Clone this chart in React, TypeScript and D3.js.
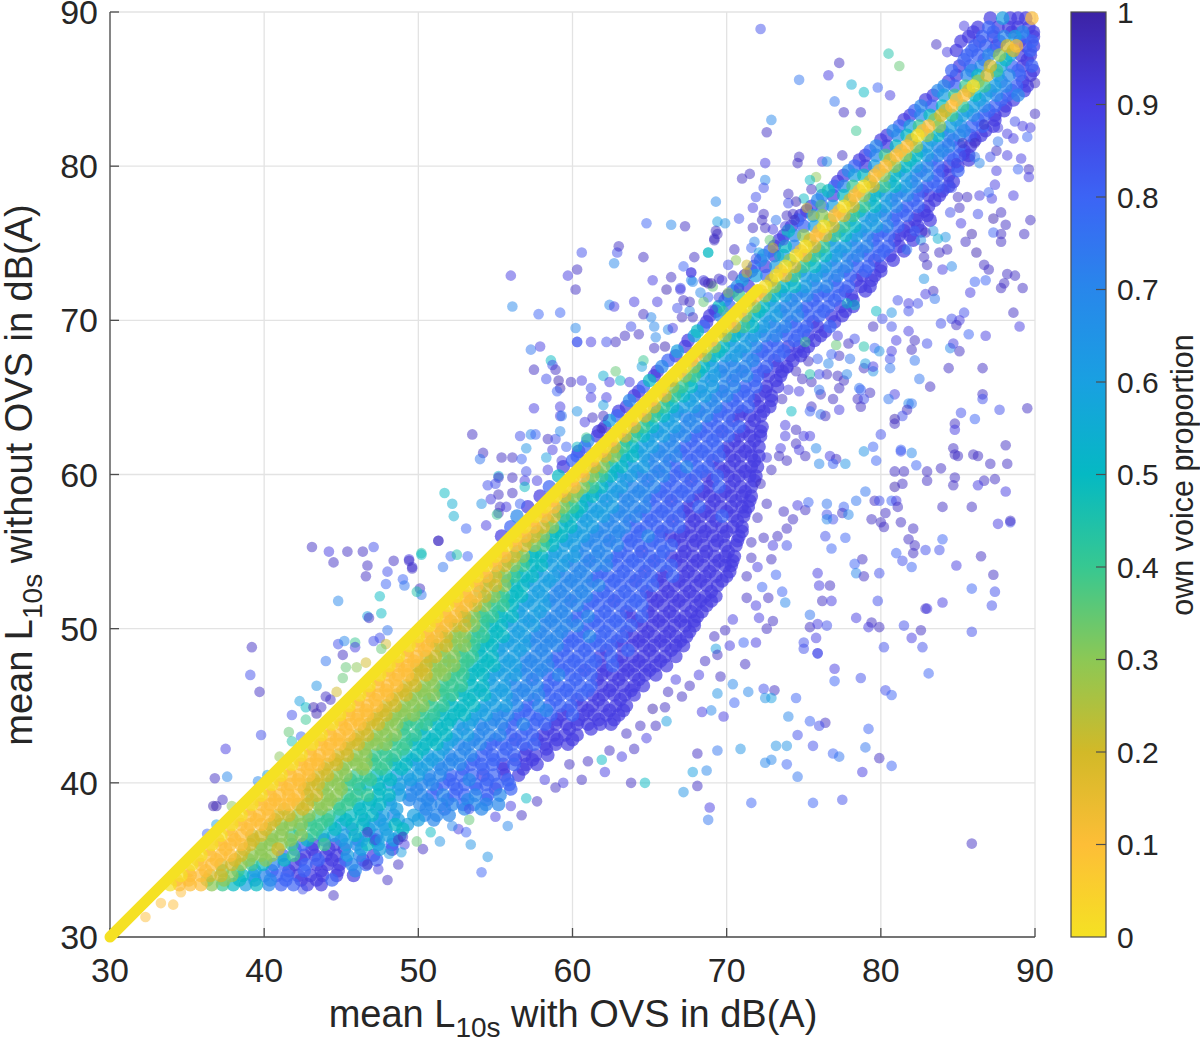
import React from "react";
import * as d3 from "d3";

// Values are estimates (dB(A), dB(A), own-voice proportion).
// The outlying points were read one by one. The dense body cannot be resolved into single
// points, so its rows are a hand-estimated sampling of where it lies and what colour it has.
const xTicks = [30, 40, 50, 60, 70, 80, 90];
const yTicks = [30, 40, 50, 60, 70, 80, 90];
const cbTicks = [0, 0.1, 0.2, 0.3, 0.4, 0.5, 0.6, 0.7, 0.8, 0.9, 1];
const cbLabels = ["0", "0.1", "0.2", "0.3", "0.4", "0.5", "0.6", "0.7", "0.8", "0.9", "1"];
const cmapStops = ["#f5e123", "#fdbe37", "#d2b928", "#8cc855", "#37c891", "#05b9c3", "#19a0e1", "#2887eb", "#3c64f5", "#463ce1", "#3c23a5"];

const diagonal = [30,32,34,36,38,40,42,44,46,48,50,52,54,56,58,60,62,64,66,68,70,72];

// Dense body, one row per y level: "x:p" with p in tenths of the proportion.
const core30s: [number, string][] = [
[33.4,"33.9:0 34.5:1 35.2:1 35.9:1 36.6:3 37.3:4 38.0:5 38.8:6 39.5:5 40.3:7 41.1:8 41.9:8 42.8:9 43.7:9"],
[34.0,"34.6:0 35.2:1 35.9:1 36.5:2 37.2:2 37.9:3 38.6:5 39.3:6 40.0:7 40.8:8 41.5:8 42.2:9 43.0:9 43.8:9 44.7:9 45.8:9"],
[34.7,"35.3:0 35.9:1 36.6:1 37.2:2 37.9:2 38.5:3 39.2:4 39.9:5 40.6:7 41.3:8 42.0:9 42.7:8 43.4:9 44.1:9 44.9:9 45.7:7 46.6:8"],
[35.3,"35.9:0 36.5:1 37.2:1 37.8:1 38.5:2 39.2:3 39.8:3 40.5:3 41.2:8 41.9:4 42.6:9 43.3:9 44.0:9 44.7:9 45.4:6 46.2:7 47.1:9"],
[36.0,"36.6:0 37.2:1 37.8:1 38.5:1 39.1:2 39.8:3 40.4:3 41.1:3 41.8:4 42.5:8 43.2:9 43.9:4 44.6:9 45.3:6 46.0:7 46.7:5 47.4:6 48.3:8"],
[36.6,"37.2:0 37.9:1 38.5:1 39.2:2 39.8:2 40.5:3 41.1:3 41.8:4 42.4:3 43.1:4 43.8:5 44.5:6 45.2:6 45.9:5 46.6:6 47.3:7 48.0:6 48.8:6"],
[37.3,"37.9:0 38.5:1 39.1:1 39.8:1 40.4:2 41.1:3 41.7:3 42.4:3 43.0:4 43.7:4 44.3:5 45.0:6 45.7:5 46.4:5 47.1:6 47.8:6 48.5:5 49.3:6"],
[37.9,"38.5:0 39.1:1 39.7:1 40.3:1 40.9:2 41.6:2 42.2:3 42.9:3 43.5:4 44.2:4 44.9:5 45.6:5 46.3:5 47.0:5 47.7:6 48.4:7 49.7:6 50.4:7 51.2:7 52.0:7"],
[38.6,"39.2:0 39.8:1 40.4:1 41.0:1 41.6:1 42.2:2 42.8:2 43.5:3 44.1:3 44.8:4 45.4:4 46.1:5 46.8:5 47.5:5 48.2:6 50.1:7 50.8:7 51.5:7 52.2:7 52.9:8 53.6:7 54.4:7 55.2:7"],
[39.2,"39.8:0 40.4:1 41.0:1 41.6:1 42.2:1 42.8:2 43.4:2 44.1:3 44.7:3 45.4:4 46.0:4 46.7:4 47.4:5 48.1:5 48.8:6 49.5:7 50.2:7 50.9:8 51.6:7 52.3:8 53.0:8 53.7:7 54.5:8 55.3:7"],
];
const core40s: [number, string][] = [
[39.9,"40.5:0 41.1:1 41.7:1 42.3:1 42.9:2 43.5:2 44.1:3 44.8:3 45.4:4 46.1:4 46.7:5 47.4:5 48.1:6 48.8:6 49.5:7 50.2:7 50.9:7 51.6:8 52.3:8 53.0:8 53.7:8 54.4:8 55.1:8 55.9:8"],
[40.5,"41.1:0 41.7:1 42.3:1 42.9:1 43.5:2 44.1:2 44.7:3 45.3:3 46.0:4 46.6:4 47.3:5 47.9:5 48.6:6 49.3:6 50.0:6 50.7:7 51.4:7 52.1:8 52.8:8 53.5:8 54.2:9 54.9:8 55.6:9 56.5:9"],
[41.2,"41.8:0 42.4:1 43.0:1 43.5:1 44.1:2 44.7:2 45.3:3 46.0:3 46.6:3 47.2:4 47.9:4 48.5:5 49.2:5 49.9:6 50.6:6 51.3:7 52.0:7 52.7:7 53.4:8 54.1:8 54.8:8 55.5:9 56.2:8 57.0:9 57.7:9"],
[41.8,"42.4:0 43.0:1 43.6:1 44.2:1 44.8:2 45.4:2 46.0:3 46.6:3 47.2:4 47.9:4 48.5:4 49.2:5 49.9:5 50.6:6 51.3:6 52.0:7 52.7:7 53.4:7 54.1:8 54.8:8 55.5:8 56.2:8 56.9:9 57.6:9 58.4:9"],
[42.5,"43.1:0 43.7:1 44.3:1 44.9:1 45.5:2 46.1:2 46.7:3 47.3:3 47.9:3 48.5:4 49.2:4 49.8:5 50.5:5 51.2:5 51.9:6 52.6:7 53.3:7 54.0:7 54.7:8 55.4:8 56.1:8 56.8:8 57.5:8 58.2:9 58.9:9 59.7:9"],
[43.1,"43.7:0 44.3:1 44.9:1 45.5:1 46.1:2 46.7:2 47.3:3 47.9:3 48.5:3 49.1:4 49.8:4 50.4:5 51.1:5 51.8:5 52.5:6 53.2:6 53.9:7 54.6:7 55.3:7 56.0:8 56.7:8 57.4:8 58.1:9 58.8:9 59.5:9 60.3:9"],
[43.8,"44.4:0 45.0:1 45.6:1 46.2:1 46.8:2 47.4:2 48.0:3 48.6:3 49.2:4 49.9:4 50.5:4 51.2:5 51.9:5 52.6:6 53.3:6 54.0:7 54.7:7 55.4:7 56.1:8 56.8:7 57.5:8 58.2:8 58.9:9 59.6:9 60.3:9 61.0:9 61.8:9 62.5:9"],
[44.4,"44.9:0 45.5:1 46.1:1 46.7:1 47.3:2 47.9:2 48.5:3 49.1:3 49.7:3 50.3:4 51.0:4 51.6:5 52.3:5 53.0:5 53.7:6 54.4:6 55.1:7 55.8:7 56.5:8 57.2:8 57.9:8 58.6:8 59.3:9 60.0:8 60.7:9 61.4:9 62.2:9 63.0:9"],
[45.0,"45.5:0 46.1:1 46.7:1 47.3:1 47.9:2 48.5:2 49.1:3 49.7:3 50.3:3 50.9:4 51.6:4 52.2:5 52.9:5 53.6:5 54.3:6 55.0:6 55.7:6 56.4:7 57.1:8 57.8:7 58.5:8 59.2:8 59.9:8 60.6:9 61.3:9 62.0:9 62.8:9 63.5:9"],
[45.7,"46.2:0 46.8:1 47.4:1 48.0:1 48.6:2 49.2:2 49.8:3 50.4:3 51.0:3 51.6:4 52.2:4 52.9:5 53.6:5 54.3:5 55.0:6 55.7:6 56.4:7 57.1:7 57.8:7 58.5:8 59.2:8 59.9:8 60.6:8 61.3:9 62.0:9 62.7:9 63.4:9 64.0:9"],
[46.3,"46.8:0 47.4:1 48.0:1 48.6:1 49.2:2 49.8:2 50.4:3 51.0:3 51.6:4 52.2:4 52.8:4 53.5:5 54.2:5 54.9:6 55.6:6 56.3:7 57.0:7 57.7:7 58.4:8 59.1:8 59.8:8 60.5:8 61.2:8 61.9:9 62.6:9 63.3:9 64.0:9 64.6:9"],
[47.0,"47.5:0 48.1:1 48.7:1 49.3:1 49.9:2 50.5:2 51.1:3 51.7:3 52.3:4 52.9:4 53.5:5 54.2:5 54.9:6 55.6:6 56.3:6 57.0:7 57.7:7 58.4:8 59.1:7 59.8:8 60.5:8 61.2:8 61.9:9 62.6:9 63.3:9 64.0:9 64.7:9 65.4:9"],
[47.6,"48.1:0 48.7:1 49.3:1 49.9:2 50.5:2 51.1:3 51.7:3 52.3:3 52.9:4 53.5:5 54.2:5 54.9:5 55.6:6 56.3:6 57.0:7 57.7:7 58.4:7 59.1:8 59.8:8 60.5:8 61.2:8 61.9:9 62.6:8 63.3:9 64.0:9 64.7:9 65.4:9 66.1:9"],
[48.2,"48.7:0 49.3:1 49.9:1 50.5:2 51.1:2 51.7:3 52.3:3 52.9:4 53.5:4 54.1:5 54.8:5 55.5:6 56.2:6 56.9:7 57.6:7 58.3:7 59.0:8 59.7:8 60.4:8 61.1:8 61.8:9 62.5:8 63.2:9 63.9:9 64.6:9 65.3:9 66.0:9 66.7:9"],
[48.9,"49.4:0 50.0:1 50.6:1 51.2:2 51.8:2 52.4:3 53.0:3 53.6:4 54.2:5 54.8:5 55.5:6 56.2:6 56.9:6 57.6:7 58.3:7 59.0:7 59.7:8 60.4:8 61.1:8 61.8:8 62.5:8 63.2:9 63.9:9 64.6:9 65.3:9 66.0:9 66.7:9 67.2:9"],
[49.5,"50.0:0 50.6:1 51.2:1 51.8:2 52.4:3 53.0:3 53.6:4 54.2:4 54.8:5 55.5:5 56.2:6 56.9:6 57.6:7 58.3:7 59.0:7 59.7:8 60.4:8 61.1:7 61.8:8 62.5:8 63.2:8 63.9:9 64.6:9 65.3:9 66.0:9 66.7:9 67.4:9"],
];
const core50s: [number, string][] = [
[50.2,"50.7:0 51.2:1 51.8:1 52.4:2 53.0:2 53.6:3 54.2:4 54.8:5 55.4:5 56.1:6 56.8:6 57.5:6 58.2:7 58.9:7 59.6:7 60.3:7 61.0:8 61.7:8 62.4:8 63.1:8 63.8:8 64.5:9 65.2:9 65.9:9 66.6:9 67.3:9 67.9:9"],
[50.8,"51.2:0 51.8:1 52.4:1 53.0:2 53.6:3 54.2:4 54.8:4 55.4:5 56.1:5 56.8:6 57.5:6 58.2:7 58.9:7 59.6:7 60.3:8 61.0:7 61.7:8 62.4:8 63.1:8 63.8:9 64.5:8 65.2:9 65.9:9 66.6:9 67.3:9 68.1:9"],
[51.5,"51.9:0 52.5:1 53.1:1 53.7:2 54.3:3 54.9:4 55.5:4 56.1:5 56.8:6 57.5:6 58.2:6 58.9:7 59.6:7 60.3:7 61.0:8 61.7:8 62.4:8 63.1:8 63.8:8 64.5:8 65.2:9 65.9:9 66.6:9 67.3:9 68.0:9 68.7:9"],
[52.1,"52.5:0 53.1:1 53.7:1 54.3:2 54.9:3 55.5:4 56.1:5 56.7:5 57.4:6 58.1:6 58.8:7 59.5:7 60.2:7 60.9:7 61.6:8 62.3:8 63.0:8 63.7:8 64.4:8 65.1:9 65.8:9 66.5:9 67.2:9 67.9:9 68.6:9 69.3:9"],
[52.8,"53.2:0 53.8:1 54.4:2 55.0:2 55.6:3 56.2:5 56.8:5 57.5:6 58.2:6 58.9:7 59.6:7 60.3:7 61.0:7 61.7:7 62.4:8 63.1:8 63.8:8 64.5:8 65.2:8 65.9:9 66.6:9 67.3:9 68.0:9 68.7:9 69.4:9"],
[53.4,"53.8:0 54.4:1 55.0:2 55.6:3 56.2:4 56.8:5 57.4:5 58.1:6 58.8:6 59.5:7 60.2:7 60.9:7 61.6:8 62.3:8 63.0:8 63.7:8 64.4:8 65.1:8 65.8:9 66.5:8 67.2:9 67.9:9 68.6:9 69.3:9 70.0:9"],
[54.1,"54.4:0 55.0:1 55.6:2 56.2:3 56.8:4 57.4:5 58.0:5 58.7:6 59.4:6 60.1:7 60.8:7 61.5:7 62.2:7 62.9:8 63.6:8 64.3:8 65.0:8 65.7:8 66.4:8 67.1:9 67.8:9 68.5:9 69.2:9 69.9:9 70.3:9"],
[54.7,"55.0:0 55.6:1 56.2:2 56.8:3 57.4:5 58.0:5 58.7:6 59.4:6 60.1:6 60.8:7 61.5:7 62.2:7 62.9:8 63.6:8 64.3:8 65.0:8 65.7:8 66.4:9 67.1:9 67.8:9 68.5:9 69.2:9 69.9:9 70.5:9"],
[55.4,"55.7:0 56.3:1 56.9:2 57.5:3 58.1:4 58.7:5 59.4:6 60.1:6 60.8:7 61.5:7 62.2:7 62.9:7 63.6:8 64.3:8 65.0:8 65.7:8 66.4:8 67.1:9 67.8:9 68.5:9 69.2:9 69.9:9 70.6:9"],
[56.0,"55.4:9 56.3:0 56.9:1 57.5:2 58.1:3 58.7:5 59.3:5 60.0:6 60.7:6 61.4:7 62.1:7 62.8:7 63.5:8 64.2:8 64.9:7 65.6:8 66.3:9 67.0:9 67.7:9 68.4:9 69.1:9 69.8:9 70.8:9"],
[56.6,"56.0:8 56.9:0 57.5:1 58.1:2 58.7:3 59.3:5 59.9:5 60.6:6 61.3:6 62.0:7 62.7:7 63.4:7 64.1:8 64.8:8 65.5:8 66.2:8 66.9:8 67.6:9 68.3:9 69.0:9 69.7:9 70.4:9 71.0:9"],
[57.3,"56.4:7 57.6:0 58.2:1 58.8:2 59.4:4 60.0:5 60.6:6 61.3:6 62.0:6 62.7:7 63.4:7 64.1:7 64.8:8 65.5:8 66.2:8 66.9:8 67.6:9 68.3:9 69.0:9 69.7:8 70.4:9 71.1:9"],
[57.9,"57.1:9 58.2:0 58.8:1 59.4:3 60.0:4 60.6:5 61.2:6 61.9:6 62.6:6 63.3:7 64.0:7 64.7:7 65.4:8 66.1:8 66.8:8 67.5:9 68.2:8 68.9:9 69.6:9 70.3:9 71.0:9 71.4:9"],
[58.6,"57.9:9 58.9:0 59.5:2 60.1:3 60.7:5 61.3:5 61.9:6 62.6:6 63.3:7 64.0:7 64.7:7 65.4:8 66.1:8 66.8:8 67.5:8 68.2:9 68.9:9 69.6:9 70.3:9 71.0:9 71.6:9"],
[59.2,"58.5:8 59.5:0 60.1:1 60.7:3 61.3:4 61.9:5 62.5:6 63.2:6 63.9:7 64.6:7 65.3:7 66.0:8 66.7:8 67.4:8 68.1:8 68.8:9 69.5:8 70.2:9 70.9:9 71.6:9"],
[59.9,"59.1:5 60.1:0 60.7:1 61.3:3 61.9:4 62.5:5 63.1:6 63.8:6 64.5:7 65.2:7 65.9:7 66.6:8 67.3:8 68.0:8 68.7:9 69.4:8 70.1:9 70.8:9 71.5:9 71.9:9"],
];
const core60s: [number, string][] = [
[60.5,"59.4:9 60.8:0 61.4:2 62.0:3 62.6:5 63.2:5 63.9:6 64.6:6 65.3:7 66.0:7 66.7:8 67.4:7 68.1:8 68.8:8 69.5:9 70.2:9 70.9:9 71.6:9 72.0:9"],
[61.2,"60.3:8 61.5:0 62.1:2 62.7:3 63.3:5 63.9:5 64.6:6 65.3:7 66.0:7 66.7:7 67.4:8 68.1:8 68.8:8 69.5:8 70.2:9 70.9:9 71.6:9 72.1:9"],
[61.8,"60.8:8 62.1:0 62.7:2 63.3:4 63.9:5 64.5:6 65.2:6 65.9:7 66.6:7 67.3:8 68.0:8 68.7:8 69.4:8 70.1:9 70.8:9 71.5:9 72.1:9"],
[62.5,"61.6:9 62.8:0 63.4:2 64.0:4 64.6:5 65.2:6 65.9:6 66.6:7 67.3:7 68.0:8 68.7:8 69.4:8 70.1:8 70.8:9 71.5:9 72.2:9"],
[63.1,"62.1:9 63.4:0 64.0:2 64.6:4 65.2:5 65.9:6 66.6:6 67.3:7 68.0:7 68.7:8 69.4:8 70.1:8 70.8:8 71.5:9 72.3:9"],
[63.8,"62.9:8 64.1:0 64.7:2 65.3:4 65.9:5 66.6:6 67.3:7 68.0:7 68.7:7 69.4:8 70.1:8 70.8:9 71.5:9 72.2:9"],
[64.4,"63.5:9 64.7:0 65.3:2 65.9:4 66.5:5 67.2:6 67.9:6 68.6:7 69.3:7 70.0:8 70.7:8 71.4:8 72.1:9 72.8:9"],
[65.1,"64.0:9 65.4:0 66.0:2 66.6:4 67.2:5 67.9:6 68.6:6 69.3:7 70.0:7 70.7:8 71.4:8 72.1:9 72.9:9"],
[65.7,"64.6:8 65.9:0 66.5:3 67.1:4 67.7:5 68.4:6 69.1:6 69.8:7 70.5:7 71.2:8 71.9:8 72.6:9 73.3:9"],
[66.4,"65.3:9 66.7:0 67.3:3 67.9:4 68.5:6 69.2:6 69.9:7 70.6:7 71.3:7 72.0:8 72.7:9 73.5:9"],
[67.0,"65.8:7 67.3:0 67.9:3 68.5:5 69.1:6 69.8:7 70.5:7 71.2:7 71.9:8 72.6:8 73.3:9 73.9:9"],
[67.7,"66.7:9 68.0:1 68.6:3 69.2:5 69.9:6 70.6:6 71.3:7 72.0:8 72.7:8 73.4:8 74.1:9 74.8:9"],
[68.3,"67.3:9 68.6:0 69.2:3 69.8:5 70.5:6 71.2:6 71.9:7 72.6:8 73.3:8 74.0:9 74.7:9 75.3:9"],
[69.0,"67.9:6 69.3:0 69.9:3 70.5:5 71.1:6 71.8:6 72.5:7 73.2:7 73.9:8 74.6:8 75.3:9 76.1:9"],
[69.6,"68.5:8 69.9:0 70.5:2 71.1:4 71.7:5 72.4:6 73.1:7 73.8:7 74.5:8 75.2:8 75.9:9 76.7:8"],
];
const core70s: [number, string][] = [
[70.3,"68.9:9 69.6:7 70.6:0 71.2:3 71.8:5 72.5:6 73.2:6 73.9:7 74.6:7 75.3:8 76.0:8 76.8:9 77.5:9"],
[70.9,"69.5:5 70.2:8 71.2:0 71.8:3 72.4:5 73.1:6 73.8:7 74.5:7 75.2:8 75.9:8 76.6:8 77.4:9 78.2:9"],
[71.6,"70.1:9 70.8:4 71.9:1 72.5:3 73.1:5 73.8:6 74.5:7 75.2:7 75.9:8 76.6:8 77.3:8 78.1:9"],
[72.2,"70.7:7 71.4:9 72.5:0 73.1:3 73.7:5 74.4:5 75.1:6 75.8:7 76.5:7 77.2:8 77.9:8 78.7:9 79.3:9"],
[72.9,"71.2:9 71.9:6 72.6:8 73.2:0 73.8:2 74.4:4 75.1:6 75.8:6 76.5:7 77.2:7 78.0:8 78.8:9 79.6:9"],
[73.5,"71.8:8 72.5:9 73.2:6 73.8:0 74.4:2 75.0:4 75.7:5 76.4:6 77.1:7 77.8:7 78.5:8 79.2:8 80.0:9"],
[74.2,"72.4:7 73.1:9 73.7:6 74.5:0 75.1:2 75.7:4 76.4:5 77.1:6 77.8:7 78.5:7 79.2:8 79.9:8 80.6:9"],
[74.8,"73.1:9 73.8:5 74.4:7 75.1:0 75.7:2 76.3:4 77.0:6 77.7:6 78.4:7 79.1:7 79.8:8 80.5:8 81.2:9"],
[75.5,"73.7:9 74.4:7 75.0:3 75.8:1 76.4:2 77.0:4 77.7:5 78.4:6 79.1:7 79.8:8 80.5:8 81.2:9 81.9:9"],
[76.1,"74.2:9 75.0:8 75.7:6 76.3:0 76.9:2 77.6:4 78.3:5 79.0:6 79.7:6 80.4:7 81.1:8 81.8:9 82.4:9"],
[76.8,"74.8:9 75.6:6 76.2:3 77.0:1 77.6:2 78.2:4 78.9:6 79.6:6 80.3:7 81.0:8 81.7:8 82.4:9 83.0:9"],
[77.4,"75.5:9 76.2:8 76.9:6 77.6:0 78.2:2 78.9:4 79.6:5 80.3:6 81.0:7 81.7:8 82.4:8 83.1:9"],
[78.1,"76.2:7 76.9:9 77.6:5 78.3:1 78.9:3 79.6:5 80.3:6 81.0:7 81.7:7 82.4:8 83.1:9 83.8:9"],
[78.7,"77.0:8 77.6:7 78.2:4 78.9:0 79.5:2 80.2:4 80.9:5 81.6:6 82.3:7 83.0:8 83.7:8 84.4:9"],
[79.4,"77.6:9 78.3:6 78.9:5 79.6:1 80.2:3 80.9:5 81.6:6 82.3:7 83.0:7 83.7:8 84.4:9"],
];
const core80s: [number, string][] = [
[80.0,"78.3:8 79.0:9 79.6:6 80.3:1 80.9:3 81.6:5 82.3:6 83.0:7 83.7:8 84.4:9 85.0:9"],
[80.7,"79.0:9 79.7:7 80.3:4 81.0:1 81.6:3 82.3:5 83.0:6 83.7:7 84.4:8 85.1:8 85.7:9"],
[81.3,"79.7:7 80.4:9 81.0:5 81.7:1 82.3:3 83.0:6 83.7:7 84.4:7 85.1:8 85.8:9"],
[82.0,"80.4:9 81.1:7 81.7:5 82.4:0 83.0:3 83.7:5 84.4:7 85.1:7 85.8:8 86.5:9"],
[82.6,"81.2:8 81.9:6 82.5:4 83.1:1 83.8:3 84.5:6 85.2:7 85.9:8 86.6:8 87.3:9"],
[83.3,"81.9:9 82.6:7 83.2:5 83.9:2 84.6:4 85.3:6 86.0:7 86.7:8 87.4:9"],
[83.9,"82.6:7 83.3:8 84.0:5 84.6:1 85.3:4 86.0:6 86.7:7 87.4:8 88.1:9"],
[84.6,"83.4:9 84.1:6 84.8:4 85.4:1 86.1:5 86.8:6 87.5:7 88.2:8 88.9:7"],
[85.2,"84.1:7 84.8:8 85.5:4 86.0:0 86.7:4 87.4:6 88.1:7 88.8:8 89.5:9"],
[85.9,"84.9:9 85.6:7 86.3:5 86.9:2 87.6:6 88.3:7 89.0:8 89.7:9"],
[86.5,"85.1:9 85.8:8 86.5:7 87.1:2 87.8:6 88.5:8 89.2:9 89.8:8"],
[87.2,"85.6:8 86.3:8 87.0:7 87.7:3 88.4:6 89.1:9 89.7:9"],
[87.8,"86.1:8 86.8:8 87.5:9 88.2:2 88.8:1 89.4:9 89.9:9"],
[88.4,"85.7:9 86.6:8 87.3:9 88.0:7 88.7:6 89.3:8 89.9:9"],
[89.0,"86.3:9 87.0:8 87.6:9 88.3:9 88.9:9 89.6:9"],
[89.6,"87.1:9 87.9:6 88.4:9 88.9:9 89.4:9 89.8:1"],
];

// Second pass over the body, rows between those above.
const fill30s: [number, string][] = [
[33.7,"34.3:1 35.1:1 36.3:3 37.4:3 38.4:5 39.4:7 40.4:7 41.4:8 42.4:9 43.4:9 44.4:8"],
[34.3,"35.1:1 36.2:1 37.3:3 38.3:4 39.4:6 40.5:8 41.6:9 42.6:8 43.7:9 44.8:9 45.9:7"],
[35.0,"35.7:1 36.9:1 38.1:2 39.0:3 40.1:3 41.3:5 42.4:9 43.5:8 44.4:9 45.3:8 46.4:9 47.3:8"],
[35.7,"36.4:1 37.5:1 38.7:2 39.8:3 40.9:2 42.0:8 43.1:9 44.2:9 45.2:9 46.3:6 47.5:6 48.3:9"],
[36.3,"37.0:1 38.1:1 39.3:2 40.5:3 41.7:3 42.8:5 43.9:8 45.0:7 46.1:7 47.2:9 48.4:6"],
[37.0,"37.7:1 38.9:1 40.1:2 41.2:3 42.3:4 43.4:4 44.6:5 45.7:7 46.8:6 47.9:6 49.0:5"],
[37.6,"38.3:1 39.5:1 40.7:2 41.8:3 42.9:4 44.1:4 45.3:5 46.5:6 47.5:7 48.7:6 50.0:6 51.0:7"],
[38.3,"39.0:1 40.2:1 41.3:2 42.5:2 43.7:3 44.9:4 46.2:5 47.3:6 48.6:6 50.5:7 51.7:8 53.0:7 54.1:7"],
[38.9,"39.6:1 40.7:1 41.9:1 43.1:3 44.3:3 45.6:4 46.9:5 48.1:6 49.4:7 50.6:7 51.9:8 53.2:7 54.4:8"],
[39.6,"40.3:1 41.5:1 42.6:2 43.8:3 45.0:3 46.2:5 47.5:5 48.7:6 49.9:7 51.2:8 52.5:8 53.8:8 55.0:9 56.0:8"],
];
const fill40s: [number, string][] = [
[40.2,"41.0:1 42.2:1 43.2:2 44.4:3 45.6:4 46.9:4 48.2:5 49.5:6 50.7:7 52.0:8 53.3:7 54.5:8 55.8:8"],
[40.9,"41.6:1 42.8:1 43.9:2 45.1:3 46.4:3 47.6:4 48.9:5 50.2:6 51.5:7 52.9:8 54.2:8 55.5:9 56.8:9"],
[41.5,"42.3:1 43.4:1 44.6:2 45.8:3 47.0:4 48.3:5 49.6:6 50.9:6 52.2:7 53.6:8 54.9:8 56.3:9 57.4:9"],
[42.2,"43.0:1 44.1:1 45.3:2 46.5:3 47.7:4 49.0:4 50.3:5 51.6:6 53.0:7 54.4:8 55.7:8 57.0:9 58.3:9"],
[42.8,"43.6:1 44.7:1 45.9:2 47.1:3 48.3:4 49.6:5 50.9:5 52.2:6 53.6:7 55.0:8 56.3:9 57.7:9 59.0:9 60.0:9"],
[43.5,"44.2:1 45.3:1 46.5:2 47.7:3 49.0:4 50.2:5 51.5:5 52.9:7 54.2:7 55.6:8 57.0:8 58.4:9 59.8:9 61.2:9"],
[44.1,"44.9:1 46.0:1 47.1:2 48.3:3 49.5:4 50.8:5 52.1:5 53.5:6 54.9:7 56.3:8 57.7:8 59.0:9 60.4:9 61.7:9 62.7:9"],
[44.7,"45.5:1 46.6:1 47.7:2 48.9:3 50.1:4 51.4:5 52.7:5 54.1:6 55.5:7 56.9:8 58.3:7 59.7:9 61.0:9 62.4:9 63.3:9"],
[45.4,"46.1:1 47.2:1 48.3:2 49.5:3 50.7:4 52.0:5 53.3:5 54.7:6 56.1:7 57.5:8 58.9:8 60.3:9 61.7:9 63.1:9"],
[46.0,"46.8:1 47.9:1 49.0:2 50.2:3 51.4:4 52.7:5 54.0:6 55.4:6 56.8:7 58.2:8 59.6:8 61.0:8 62.4:9 63.8:9"],
[46.7,"47.4:1 48.5:1 49.6:2 50.8:3 52.0:4 53.3:5 54.6:6 56.0:7 57.4:8 58.8:8 60.2:8 61.6:9 63.0:9 64.3:9"],
[47.3,"48.0:1 49.1:1 50.2:2 51.4:3 52.6:4 53.9:5 55.2:6 56.6:7 58.0:7 59.4:8 60.8:9 62.2:9 63.6:9 65.0:9"],
[47.9,"48.6:1 49.7:1 50.8:3 52.0:4 53.2:4 54.5:5 55.9:6 57.3:7 58.7:8 60.1:8 61.5:8 62.9:9 64.3:9 65.7:9"],
[48.6,"49.3:1 50.4:1 51.5:3 52.7:4 53.9:5 55.2:6 56.6:6 58.0:7 59.4:8 60.8:8 62.2:9 63.6:8 65.0:9 66.4:9"],
[49.2,"49.9:1 50.9:2 52.1:3 53.3:4 54.5:5 55.8:6 57.2:7 58.6:7 60.0:8 61.5:8 62.9:9 64.3:9 65.7:9 67.0:9"],
[49.8,"50.5:1 51.5:2 52.7:3 53.9:5 55.1:5 56.5:6 57.9:7 59.3:7 60.7:8 62.1:8 63.5:9 64.9:9 66.3:9 67.6:9"],
];
const fill50s: [number, string][] = [
[50.5,"51.1:1 52.1:2 53.3:4 54.5:5 55.8:6 57.2:7 58.6:7 60.0:8 61.4:8 62.8:8 64.2:9 65.6:9 67.0:9 67.9:9"],
[51.1,"51.7:1 52.8:2 54.0:4 55.2:5 56.5:6 57.9:6 59.3:7 60.7:8 62.1:8 63.5:9 64.9:9 66.3:9 67.7:9 68.4:9"],
[51.8,"52.4:1 53.4:2 54.6:4 55.8:5 57.1:6 58.5:7 59.9:8 61.3:8 62.7:9 64.1:8 65.5:9 66.9:9 68.3:9 69.0:9"],
[52.4,"53.0:1 54.0:3 55.2:4 56.4:5 57.8:6 59.2:7 60.6:7 62.0:8 63.4:8 64.8:9 66.2:9 67.6:9 69.0:9"],
[53.1,"53.6:1 54.6:3 55.8:5 57.1:6 58.5:6 59.9:7 61.3:8 62.7:8 64.1:9 65.5:9 66.9:9 68.3:9 69.7:9"],
[53.7,"54.2:1 55.2:3 56.4:5 57.7:6 59.1:7 60.5:7 61.9:8 63.3:8 64.7:9 66.1:9 67.5:9 68.9:9 70.2:9"],
[54.4,"54.8:1 55.8:3 57.0:5 58.3:6 59.7:7 61.1:8 62.5:8 63.9:8 65.3:9 66.7:9 68.1:9 69.5:9 70.4:9"],
[55.0,"55.4:1 56.4:3 57.6:5 58.9:6 60.3:7 61.7:7 63.1:8 64.5:9 65.9:8 67.3:9 68.7:9 70.1:9"],
[55.7,"56.1:1 57.1:3 58.3:5 59.6:6 61.0:7 62.4:8 63.8:8 65.2:8 66.6:9 68.0:9 69.4:9 70.7:9"],
[56.3,"56.7:1 57.7:3 58.9:5 60.2:6 61.6:7 63.0:7 64.4:8 65.8:9 67.2:9 68.6:9 70.0:9 71.0:9"],
[57.0,"57.4:1 58.4:3 59.6:6 60.9:6 62.3:7 63.7:8 65.1:8 66.5:9 67.9:9 69.3:9 70.7:9"],
[57.6,"58.0:1 59.1:4 60.3:5 61.6:6 63.0:7 64.4:8 65.8:8 67.2:9 68.6:9 70.0:9 71.2:9"],
[58.3,"58.7:1 59.7:4 60.9:6 62.2:7 63.6:7 65.0:8 66.4:9 67.8:9 69.2:9 70.6:9 71.5:9"],
[58.9,"59.3:1 60.3:3 61.5:6 62.9:7 64.3:7 65.7:8 67.1:8 68.5:9 69.9:9 71.2:9"],
[59.6,"60.0:1 61.0:4 62.2:6 63.5:7 64.9:8 66.3:8 67.7:9 69.1:9 70.5:9 71.8:9"],
[60.2,"60.6:1 61.6:4 62.9:6 64.2:7 65.6:8 67.0:8 68.4:8 69.8:9 71.2:9"],
];
const fill60s: [number, string][] = [
[60.9,"60.0:8 61.3:1 62.3:4 63.5:6 64.9:7 66.3:8 67.7:8 69.1:9 70.5:9 71.8:9"],
[61.5,"60.4:9 61.9:1 62.9:4 64.2:6 65.6:7 67.0:8 68.4:8 69.8:9 71.2:9"],
[62.2,"61.0:7 62.5:1 63.5:5 64.9:6 66.3:7 67.7:8 69.1:8 70.5:9 71.8:9"],
[62.8,"61.7:9 63.1:1 64.2:5 65.5:7 66.9:7 68.3:8 69.7:9 71.1:9 72.2:9"],
[63.5,"62.4:6 63.8:1 64.9:5 66.2:6 67.6:7 69.0:8 70.4:9 71.8:9"],
[64.1,"63.0:9 64.4:1 65.5:5 66.8:7 68.2:8 69.6:8 71.0:9 72.4:9"],
[64.8,"63.7:7 65.1:1 66.2:5 67.6:6 69.0:7 70.4:8 71.8:9 72.9:9"],
[65.4,"64.3:9 65.7:1 66.9:5 68.3:7 69.7:8 71.1:8 72.5:9"],
[66.1,"65.0:5 66.4:2 67.6:5 69.0:7 70.4:8 71.8:8 73.2:9"],
[66.7,"65.5:9 67.0:1 68.2:5 69.6:7 71.0:8 72.4:9 73.6:9"],
[67.4,"66.2:8 67.7:1 68.9:6 70.3:7 71.7:7 73.1:9 74.3:9"],
[68.0,"66.8:6 68.3:2 69.5:5 70.9:7 72.3:8 73.7:8 75.0:9"],
[68.7,"67.5:9 69.0:1 70.2:6 71.6:7 73.0:8 74.4:8 75.7:9"],
[69.3,"68.1:5 69.6:2 70.8:6 72.2:7 73.6:8 75.0:8 76.4:9"],
[69.9,"68.7:9 70.2:1 71.4:6 72.8:7 74.2:8 75.6:9 77.0:9"],
];
const fill70s: [number, string][] = [
[70.6,"69.3:9 70.9:1 72.1:5 73.5:7 74.9:8 76.3:8 77.7:9"],
[71.3,"69.9:7 71.5:2 72.8:6 74.2:7 75.6:8 77.0:8 78.2:9"],
[71.9,"70.4:8 72.2:1 73.5:6 74.9:7 76.3:8 77.7:9 79.0:9"],
[72.6,"71.0:6 72.9:2 74.2:6 75.6:7 77.0:8 78.4:9 79.4:9"],
[73.2,"71.6:9 73.5:1 74.8:6 76.2:7 77.6:8 79.0:8 80.0:9"],
[73.9,"72.2:7 74.1:3 75.4:5 76.8:7 78.2:8 79.6:9 80.8:9"],
[74.5,"72.8:8 74.8:1 76.0:6 77.4:7 78.8:8 80.2:8 81.5:9"],
[75.2,"73.4:9 75.4:2 76.7:6 78.1:7 79.5:8 80.9:9 82.1:9"],
[75.8,"74.0:5 76.0:1 77.3:6 78.7:7 80.1:8 81.5:9 82.6:9"],
[76.5,"74.6:8 76.7:3 78.0:6 79.4:7 80.8:8 82.2:9 83.2:9"],
[77.1,"75.2:9 77.3:1 78.6:5 80.0:7 81.4:8 82.8:9"],
[77.8,"75.9:7 78.0:2 79.3:6 80.7:7 82.1:8 83.5:9"],
[78.4,"76.6:5 78.6:1 79.9:6 81.3:7 82.7:9 84.0:9"],
[79.0,"77.2:9 79.3:2 80.6:6 82.0:7 83.4:8 84.7:9"],
[79.7,"77.9:7 79.9:1 81.2:6 82.6:8 84.0:9 85.0:8"],
];
const fill80s: [number, string][] = [
[80.4,"78.6:9 80.6:2 81.9:5 83.3:8 84.7:8 85.7:9"],
[81.0,"79.3:8 81.3:1 82.6:6 84.0:7 85.4:9"],
[81.7,"80.0:9 82.0:2 83.3:6 84.7:8 86.1:9"],
[82.3,"80.8:7 82.7:1 84.0:7 85.4:7 86.8:9"],
[83.0,"81.5:9 83.5:3 84.9:6 86.3:8 87.4:9"],
[83.6,"82.2:8 84.2:2 85.6:6 87.0:8 88.0:9"],
[84.3,"82.9:9 84.9:1 86.4:6 87.8:8 88.6:9"],
[84.9,"83.7:7 85.7:2 87.1:7 88.5:8 89.3:9"],
[85.5,"84.4:9 86.3:3 87.8:7 89.2:9"],
[86.2,"84.6:8 85.9:7 87.5:4 88.9:8 89.9:9"],
[86.9,"85.4:8 86.7:8 88.1:5 89.5:9"],
[87.5,"84.9:9 85.9:8 87.3:8 88.6:2 89.7:8"],
[88.1,"85.2:9 86.4:9 87.7:8 89.0:9 89.8:8"],
[88.7,"86.0:9 87.3:8 88.5:9 89.2:7 89.9:9"],
];

// Individually visible points around the body: [x, y, proportion].
const scatterLowerRight: [number, number, number][] = [
[85.9,36.06,.95],[71.6,38.7,.8],[75.6,38.7,.8],[77.5,38.9,.85],[68.9,38.4,.9],[68.8,37.6,.75],[67.2,39.4,.65],[68.1,39.8,.95],[64.7,40,.5],[63.8,40,.95],[67.8,40.7,.6],[68.7,40.8,.7],[68.1,41.9,.95],[69.4,42.1,.75],[70.9,42.2,.65],[72.5,41.3,.7],[72.9,41.5,.7],[73.9,41.2,.8],[74.6,40.4,.75],[73.2,42.4,.65],[73.9,42.4,.65],[75.6,42.4,.85],[74.6,43.1,.85],[76.9,41.9,.8],[77.3,41.7,.75],[79,42.3,.75],[78.8,40.7,.9],[79.9,41.6,.95],[80.7,41.1,.8],[79.2,43.5,.8],[75.4,44,.8],[76.4,43.9,.95],[76,43.7,.85],[74,44.3,.7],[69.8,44.3,.9],[69,44.7,.7],[68.4,44.6,.9],[70.5,45.2,.8],[69.4,45.8,.65],[70.4,46.4,.7],[71.4,45.9,.7],[72.4,46.1,.85],[73.1,46,.95],[72.5,45.5,.65],[72.9,45.5,.6],[74.5,45.5,.8],[80.3,46,.85],[80.7,45.7,.8],[77,46.6,.8],[77,47.4,.9],[78.7,46.8,.85],[83.1,47.1,.8],[71.2,47.7,.95],[75.9,48.4,.9],[75.9,48.4,.85],[75,48.7,.85],[75,49.1,.85],[75.8,49.4,.9],[75.4,50.1,.95],[75.9,50.3,.9],[75.4,50.9,.75],[76.5,50.2,.85],[78.4,50.7,.9],[79.2,50.1,.9],[79.4,50.4,.95],[79.9,50.1,.95],[80.2,48.8,.85],[81.5,50.2,.85],[82,49.4,.9],[82.6,49.9,.95],[82.7,48.8,.85],[82.9,51.3,.95],[83,51.3,.9],[84,51.7,.9],[85.9,49.8,.85],[87.2,51.5,.85],[87.4,52.4,.85],[85.9,52.6,.8],[87.3,53.5,.95],[84.9,54.1,.9],[86.5,54.7,.95],[83.8,55.1,.85],[82.9,55.1,.85],[84,55.8,.8],[82.1,54.9,.95],[82.2,55.4,.95],[81.8,55.8,.95],[82,54,.8],[81.4,54.4,.85],[81,54.9,.8],[82.1,56.5,.95],[81.3,56.9,.95],[80.2,56.6,.95],[80,56.9,.95],[79.4,57.1,.95],[80.3,57.5,.95],[79.6,58.3,.95],[79.9,58.3,.85],[80.7,58.3,.8],[81,58.3,.9],[81.1,57.9,.95],[84,57.9,.95],[85.9,57.9,.95],[87.6,56.8,.9],[88.4,56.9,.85],[88.4,57,.95],[88.1,58.9,.9],[87.4,59.7,.95],[86.7,59.6,.95],[86.3,59.3,.9],[84.7,59.3,.95],[84.8,59.8,.95],[83.9,60.4,.95],[83,59.6,.95],[83,60.2,.95],[81.5,60.2,.95],[80.9,60.2,.95],[81.4,59.4,.95],[80.9,59.2,.98],[79,58.9,.75],[78.4,58.3,.75],[77.6,57.9,.8],[77.5,57.5,.95],[77.9,57.4,.7],[76.5,58.1,.75],[76.5,57.4,.85],[76.9,57.1,.85],[76.5,57.1,.7],[77.7,55.9,.8],[76.8,55.2,.8],[76.4,56,.85],[78.8,54.5,.95],[78.3,54.2,.8],[78.4,53.6,.7],[78.9,53.4,.95],[79.9,53.6,.85],[75.9,53.6,.9],[76,52.8,.9],[76.7,52.8,.95],[76.2,51.8,.95],[76.8,51.8,.9],[79.8,51.8,.85],[72.1,50.7,.9],[73,50.5,.95],[73.8,51.7,.7],[73.6,52.4,.8],[72.3,52.7,.8],[73.2,53.5,.8],[71.3,52,.95],[71.9,49.1,.9],[71.1,49.1,.8],[70.2,48.9,.9],[69.3,48.7,.6],[69.4,48.3,.95],[74.6,58,.9],[75.1,57.7,.95],[75.3,58.2,.8],[74.3,57.1,.95],[73.7,57.6,.95],[73.9,56.5,.95],[73.9,55.4,.85],[73.3,56,.95],[73,55.4,.9],[72.9,54.5,.95],[71.6,54.6,.95],[77.7,60.7,.65],[79.7,60.9,.8],[82.3,60.6,.8],[82,61.4,.7],[81.3,61.5,.85],[87.1,60.7,.95],[88.2,60.7,.95],[86,61.3,.95],[84.8,61.3,.95],
];
const scatterRightGap: [number, number, number][] = [
[84.5,68.2,.7],[85.1,68,.95],[82,68.1,.95],[80.7,68,.9],[80.6,67.5,.85],[82.2,67.4,.75],[80.6,66.9,.75],[84.4,66.9,.95],[86.6,66.9,.95],[82.5,66.2,.75],[83.2,65.7,.95],[86.6,65.2,.95],[86.6,64.9,.85],[87.7,64.2,.85],[89.5,64.3,.95],[85.2,64,.85],[86.1,63.6,.8],[84.8,63.3,.95],[84.8,62.9,.9],[84.7,61.7,.95],[85,61.2,.95],[86.3,61.2,.95],[88.1,61.9,.95],[80.9,65.2,.9],[80.5,64.9,.75],[81.8,64.6,.7],[82,64.6,.75],[81.7,64.2,.95],[81.4,63.8,.85],[80.9,63.6,.98],[80.9,63.3,.95],[80,62.6,.85],[79.5,61.8,.8],[78.9,61.5,.65],[81.3,61.6,.8],[78.6,65.6,.75],[78.7,65.5,.8],[79.3,65.3,.95],[78.5,64.9,.95],[78.9,64.9,.85],[78.7,64.4,.95],[76.9,64.9,.95],[77.3,64.2,.9],[76.1,65.2,.95],[76,65.5,.75],[77.3,65.6,.95],[77.6,66.1,.95],[77.2,66.4,.95],[77.8,66.5,.7],[76.5,66.5,.95],[76,66.5,.85],[75.5,66,.95],[75.5,64.4,.95],[75.4,64.1,.8],[76.1,63.9,.75],[76.4,63.8,.95],[79.5,66.7,.65],[78.9,66.9,.95],[79,67.2,.6],[79.5,67,.9],[78,67.5,.75],[78.9,68.3,.45],[79.6,68.2,.8],[79.9,68,.65],[78.3,68.8,.85],[77.9,68.5,.95],[77.3,67.7,.95],[77.2,69,.9],[77.1,68.4,.35],[76.8,67.8,.8],[76.6,67.2,.7],[75.9,67.5,.8],[75.3,67.35,.95],[75.4,66.5,.45],[75.8,61.7,.7],[75.4,62.5,.9],[75,62.5,.9],[76.7,61.2,.9],[77.1,61,.95],[76.9,60.7,.8],[76,60.7,.7],[74.5,62.9,.95],[74.5,62,.95],[73.8,62.5,.9],[73.5,61.7,.9],[74.7,61.6,.9],[75.1,61.2,.95],[73.9,60.9,.95],[73.4,61.2,.95],[74.2,64.1,.5],[73.8,63.2,.9],[73.6,64.9,.95],[74,65.5,.9],[74.7,65.4,.9],[74.9,66.2,.95],[74.5,66.7,.95],[74,66.9,.9],[74.6,67.9,.9],[75.1,68.6,.4],
];
const scatterBandEdge: [number, number, number][] = [
[75.8,79.3,.3],[75.4,79.1,.5],[76.1,78.6,.45],[75.5,78.5,.95],[75,77.9,.5],[74.5,77.7,.98],[74,78.2,.95],[74,77.6,.85],[73.9,76.8,.95],[74.3,76.9,.95],[75.2,77.3,.2],[75.6,76.8,.25],[76.1,77.5,.35],[74.4,76.5,.95],[73.2,76.5,.75],[72.4,76.9,.95],[72.3,76.5,.95],[71.7,76,.95],[72.5,76,.95],[73,75.9,.9],[73.8,76.1,.9],[72.8,75.2,.35],[71.8,75.1,.7],[71.6,74.7,.8],[73,74.7,.2],[73.7,75.2,.85],[72.1,74.4,.6],[73.4,74.2,.5],[70.6,73.9,.3],[70.1,73.6,.85],[71.3,73.6,.2],[71.9,74,.85],[70.4,72.9,.95],[71.3,73.1,.2],[69.5,72.7,.95],[68.8,72.4,.98],[68.5,72.6,.9],[67.7,72.6,.7],[67.7,73.1,.9],[67,72.1,.85],[69.1,72.2,.35],[70.1,71.8,.3],[70.8,72.1,.9],[69.5,71.5,.9],[68.8,71.5,.8],[68.5,71.2,.35],[67.6,70.6,.7],[69.1,70.7,.9],[69.8,70.6,.4],[67.8,70.2,.95],
[72.6,50,.95],[71.9,51.5,.9],[72.7,52,.95],[71.3,53.4,.95],[72,54,.9],[71.6,55.6,.95],[72.4,55.9,.95],[72,57.2,.95],[72.6,58.1,.95],[72.2,59.4,.95],[72.9,60.3,.95],[72.6,61.1,.9],[70.4,50.6,.9],[69.9,49.9,.95],[69.2,49.5,.95],[68.6,47.9,.95],[69.6,46.9,.95],[68.2,47,.9],[67.6,46.3,.95],[66.7,46.7,.9],[67.1,45.6,.95],[66.2,45.9,.95],[66,44.9,.95],[65.2,44.8,.98],[65.4,43.7,.95],[66.1,44,.6],[64.4,43.7,.95],[64.8,42.9,.9],[63.5,43.2,.95],[64,42.2,.95],[63.2,41.7,.9],[62.4,42.1,.95],[61.9,41.5,.5],[62.1,40.7,.9],[61,41.4,.95],[60.6,40.2,.95],[59.8,41.2,.95],[59.4,40,.9],[58.9,39.7,.95],[58.2,40.2,.9],[57.7,38.8,.95],[57,39,.5],[56.7,37.9,.95],[56,38.5,.9],[55.8,37.2,.7],[55,37.8,.9],
];
const scatterUpperRight: [number, number, number][] = [
[72.2,88.9,.85],[77.3,86.7,.95],[76.6,85.9,.9],[74.7,85.6,.75],[80.5,87.3,.45],[81.2,86.5,.35],[78.1,85.3,.55],[78.9,84.8,.5],[79.8,85.1,.8],[80.6,84.6,.9],[77,84.2,.75],[77.6,83.5,.95],[78.7,83.5,.95],[72.9,83,.7],[72.6,82.2,.95],[78.4,82.3,.4],[74.7,80.6,.95],[74.6,80.2,.95],[72.5,80.2,.9],[77.5,80.7,.95],[76.2,80.3,.9],[76.5,80.3,.65],[71.5,79.5,.95],[71,79.2,.95],[72.5,79.1,.7],[72.4,78.6,.85],[71.9,78,.85],[69.3,77.7,.7],[71.7,77.3,.9],[70.8,76.6,.85],[69.4,76.4,.6],[69.9,76.3,.65],[69.3,75.8,.95],[69.2,75.3,.95],[68.8,74.4,.5],[70.5,74.6,.95],[83.6,87.9,.95],[84.3,87.4,.9],[85.4,89.1,.9],[90,85.4,.95],[90,83.4,.95],[89.6,79.8,.95],[89.6,79.3,.9],[88.9,79.8,.8],[89.1,80.5,.9],[87.5,79.7,.9],[87.4,78.8,.9],[88.6,78.1,.9],[87.2,77.9,.9],[86.4,78.1,.9],[87,78.3,.8],[85.6,78,.95],[85,78,.95],[84.2,78.5,.85],[84.6,78.6,.85],[84.4,79,.85],[85.1,77.3,.95],[84.5,77,.85],[86.3,76.9,.85],[85.2,76.3,.9],[87.3,76.6,.98],[87.8,77,.95],[89.7,76.5,.95],[88.1,76.2,.95],[87.3,75.7,.8],[87.8,75.6,.95],[87.8,75.1,.95],[89.3,75.6,.95],[85.9,75.6,.98],[85.5,75.1,.95],[83.4,75.8,.65],[82.9,75.7,.95],[82.2,75.8,.8],[84.2,75.4,.65],[83.7,75.3,.55],[82.6,75.2,.65],[82.8,74.7,.95],[81.7,74.6,.75],[83.8,74.4,.95],[84.3,74.6,.95],[86.2,74.4,.98],[82.8,74.1,.95],[83,73.6,.95],[84,73.3,.9],[84.6,73.5,.7],[86.7,73.6,.95],[87,73.3,.95],[82.8,72.7,.65],[86.1,72.5,.8],[86.8,72.6,.8],[88.2,73,.95],[88.7,72.9,.95],[88,72.4,.95],[87.8,72.1,.95],[89.2,72.1,.95],[85.8,71.8,.9],[83.4,71.9,.95],[82.9,71.7,.9],[83.5,71.4,.75],[81.1,71.3,.85],[81.8,71.1,.9],[82.4,71.1,.85],[81.8,70.6,.85],[88.6,70.5,.95],[89,69.6,.9],[85.4,70.5,.85],[84.6,70.1,.85],[85.1,70,.9],[83.9,69.8,.85],[84.9,69.7,.95],[85.7,69.1,.8],[86.8,69,.9],[81.8,69.3,.9],[80.7,69.6,.85],[80.1,70.1,.85],[79.5,69.6,.95],[80.7,70.5,.65],[79.7,70.6,.5],[78.3,71,.5],[77.8,71.1,.5],[83,68.5,.85],[82.2,68.7,.95],[81,68.7,.9],[84.7,68.5,.9],[86.7,82.7,.95],[87.6,82.5,.9],[88.7,82.9,.85],[89.2,82.6,.9],[89.7,82.5,.9],[86.1,81.9,.9],[86.1,81.5,.95],[88.2,82.1,.9],[88.6,81.8,.9],[89.5,81.9,.8],[87.6,81.6,.75],[87.5,81,.95],[88.2,80.7,.9],[87.1,80.6,.85],[86.1,80.6,.75],[86.4,80.2,.7],[84.9,80.2,.9],[85.4,80.7,.9],[85.3,81.5,.95],[84.3,81.5,.75],
];
const scatterUpperMiddle: [number, number, number][] = [
[56,72.9,.9],[56.1,70.9,.7],[57.8,70.4,.8],[59.2,70.5,.8],[59.7,72.9,.9],[60.3,73.3,.95],[60.2,72,.95],[60.6,74.4,.85],[62.9,74.4,.85],[63,74.8,.95],[62.7,73.7,.7],[64.6,74.1,.95],[64.8,76.3,.8],[66.4,76.2,.7],[67.3,76.1,.95],[60.2,69.5,.7],[60.3,68.6,.9],[60.3,68.6,.8],[61.2,68.6,.9],[62.2,68.6,.85],[62.8,68.6,.95],[63.4,69,.95],[63.8,69.6,.85],[64.3,69.1,.95],[57.3,68.1,.75],[57.9,68.3,.9],[57.5,66.8,.95],[58.3,66.2,.85],[58.6,67.4,.5],[58.7,67.1,.85],[58.9,66.8,.95],[59.1,66.1,.98],[59.2,65.6,.98],[59,65.4,.8],[59.9,66,.95],[60.6,66.1,.9],[61.2,65.6,.85],[57.5,64.3,.9],[59.2,64.4,.9],[59.2,63.8,.9],[59.3,63.8,.75],[60.3,64.1,.65],[53.5,62.6,.95],[56.6,62.5,.85],[57.3,62.6,.7],[57.6,62.6,.8],[58.4,62.3,.95],[58.9,62.3,.85],[59.2,62.8,.7],[57,61.7,.65],[54.2,61.4,.95],[54,61,.75],[55.4,61.1,.95],[56.1,61.1,.95],[56.7,61,.8],[57,60.2,.85],[55.2,59.9,.55],[55.2,59.8,.95],[54.5,59.3,.85],[55,59.4,.85],[56.1,59.8,.95],[56.9,59.6,.9],[51.7,58.8,.5],[52.2,58.1,.55],[52.3,57.3,.55],[54.1,58.1,.65],[53.1,56.5,.8],[54.7,58.4,.9],[55.2,58.7,.95],[56.1,58.8,.95],[51.3,55.7,.95],[50.2,54.9,.45],[49.4,54.5,.9],[49.6,54,.9],[52.1,54.7,.8],[52.5,54.8,.45],[53.2,54.7,.8],[51.6,54,.75],[55.3,57.9,.95],[55.2,57.5,.95],[55.7,57.9,.9],[54.4,56.7,.9],[62,66.4,.55],[62.4,66,.9],[62.8,66.7,.35],[63.1,66.1,.5],[64.6,67.4,.4],[64.5,67,.6],[63.7,66,.9],[62.2,65,.9],[61.2,65,.9],[62,64.5,.6],[61.3,63.7,.95],[62,63.8,.95],[60.8,63.4,.9],[61.9,63,.95],[60.9,62.4,.4],[59.6,61.8,.8],[60.3,61.8,.5],[58.7,61.6,.9],[58.3,61.1,.6],[59.3,60.9,.9],[58.4,60.3,.9],[57.7,59.6,.9],[56.9,59.2,.5],[56.6,58.1,.8],[55.1,57.4,.4],[65.3,69.6,.7],[65.4,68.9,.7],[65.1,70.2,.7],[66.2,69.4,.7],[66.5,69.5,.9],[65.3,68.2,.95],[66,68.3,.98],[67,72,.9],[66.4,72.8,.95],[66.1,72,.98],[65.2,72.6,.9],[64,71.2,.9],[65.5,71.2,.9],[62.4,71,.7],[62.7,70.9,.9],[64.6,70.4,.95],[67.9,74.1,.95],[68.8,74.4,.5],[67.2,73.5,.8],[67.7,73.1,.9],[67.8,72.5,.7],[66.8,70.8,.85],[67.2,71.3,.95],[67.6,71.2,.95],[67.1,70.2,.95],[68.3,71.8,.7],[68.6,72.5,.95],[69,72.4,.98],[69.7,72.6,.9],[69.4,75.6,.95],[69.2,75.2,.95],
];
const scatterLowerLeft: [number, number, number][] = [
[32.3,31.3,.1],[33.3,32.2,.1],[34.1,32.1,.1],[34.6,32.9,.1],[44.5,32.7,.95],[42.5,33.1,.85],[48,33.7,.95],[48.7,34.7,.95],[54.1,34.2,.8],[54.5,35.2,.65],[53.4,36,.65],[51.4,36.2,.65],[50.3,35.7,.95],[49.9,36.2,.35],[49.1,36,.9],[48.9,35.5,.6],[48.1,35.4,.6],[49,36.5,.95],[48.7,36.3,.95],[47.2,36.3,.9],[47.5,36.3,.6],[47.4,34.4,.9],[46.7,34.7,.95],[46.4,36.2,.6],[46.7,36.8,.95],[53.1,36.8,.8],[52.6,37,.9],[52.2,37.2,.7],[50.8,36.8,.5],[53.3,37.6,.35],[53.3,38.3,.85],
];
const scatterUpperLeft: [number, number, number][] = [
[39.2,48.8,.95],[39.1,47,.85],[39.7,45.9,.95],[39.8,43.1,.85],[37.5,42.2,.9],[36.8,40.3,.95],[37.6,40.4,.7],[36.7,38.5,.98],[36.9,38.5,.98],[37.3,38.9,.95],[43.1,55.3,.95],[44.2,55,.9],[45.4,55,.95],[46.4,55,.95],[47.1,55.3,.85],[44.5,54.3,.95],[46.7,54.1,.95],[48.4,54.4,.95],[49.4,54.4,.95],[48,53.7,.85],[46.6,53.4,.95],[49.6,53.9,.95],[50.2,54.8,.5],[51.3,55.7,.95],[47.9,52.9,.8],[49,53.2,.8],[49.1,52.8,.75],[50.1,52.6,.95],[50.2,52.2,.75],[49.9,52.4,.45],[47.5,52.1,.5],[44.8,51.8,.7],[46.7,50.8,.6],[46.8,50.7,.95],[47.6,51,.5],[48,49.9,.75],[47.1,49.2,.85],[47.5,49.4,.85],[47.9,49,.2],[44.8,49,.85],[45.2,49.2,.7],[45.9,49.1,.4],[45.9,48.8,.9],[45.1,48.3,.95],[44,47.9,.75],[47.6,48.7,.35],[45.3,47.5,.35],[46,47.5,.3],[45.1,46.8,.35],[46.6,47.8,.2],[43.4,46.3,.65],[42.3,45.3,.6],[44,45.6,.95],[44.3,45.4,.95],[44.7,45.9,.2],[42.7,44.9,.5],[43.2,44.9,.98],[43.7,44.9,.95],[43.4,44.5,.98],[41.8,44.4,.85],[42.7,44.1,.4],[41.6,43.3,.35],[41.8,42.7,.45],[42.4,43,.8],[41,41.7,.3],[39.6,40.1,.7],[40.2,40.5,.6],[37.9,38.5,.3],[36.9,37.3,.6],[36.3,36.7,.8],
];

const W = 1200, H = 1047;
const x = d3.scaleLinear().domain([30, 90]).range([110, 1035]);
const y = d3.scaleLinear().domain([30, 90]).range([937, 12]);
const cbY = d3.scaleLinear().domain([0, 1]).range([937, 12]);
const color = d3.scaleLinear<string>().domain(cbTicks).range(cmapStops).interpolate(d3.interpolateRgb);
const diagonalPath = d3.line<number>().x((v) => x(v)).y((v) => y(v))(diagonal) as string;

const FONT = "'Liberation Sans', Arial, sans-serif";
const INK = "#262626";
const AXIS = "#4d4d4d";
const GRID = "#e3e3e3";

function parseRows(rows: [number, string][]) {
  return rows.flatMap(([ry, s]) =>
    s.split(" ").map((t) => {
      const [a, b] = t.split(":");
      return { x: +a, y: ry, p: +b / 10 };
    })
  );
}
const corePoints = [core30s, fill30s, core40s, fill40s, core50s, fill50s, core60s, fill60s, core70s, fill70s, core80s, fill80s]
  .flatMap(parseRows)
  .sort((a, b) => d3.descending(a.p, b.p));
const scatter = [scatterLowerRight, scatterRightGap, scatterBandEdge, scatterUpperRight, scatterUpperMiddle, scatterLowerLeft, scatterUpperLeft]
  .flat()
  .map(([px, py, p]) => ({ x: px, y: py, p }));

export default function App() {
  return (
    <svg width={W} height={H} style={{ position: "absolute", left: 0, top: 0, background: "#fff" }}>
      <defs>
        <linearGradient id="cb" x1="0" y1="1" x2="0" y2="0">
          {cbTicks.map((t, i) => (
            <stop key={t} offset={t} stopColor={cmapStops[i]} />
          ))}
        </linearGradient>
      </defs>
      {xTicks.map((t) => (
        <line key={t} x1={x(t)} x2={x(t)} y1={12} y2={937} stroke={GRID} strokeWidth={1.3} />
      ))}
      {yTicks.map((t) => (
        <line key={t} x1={110} x2={1035} y1={y(t)} y2={y(t)} stroke={GRID} strokeWidth={1.3} />
      ))}
      <line x1={110} x2={110} y1={12} y2={937} stroke={AXIS} strokeWidth={1.3} />
      <line x1={110} x2={1035} y1={937} y2={937} stroke={AXIS} strokeWidth={1.3} />
      {xTicks.map((t) => (
        <line key={t} x1={x(t)} x2={x(t)} y1={937} y2={928} stroke={AXIS} strokeWidth={1.3} />
      ))}
      {yTicks.map((t) => (
        <line key={t} x1={110} x2={119} y1={y(t)} y2={y(t)} stroke={AXIS} strokeWidth={1.3} />
      ))}
      <g>
        {corePoints.map((d, i) => (
          <circle key={i} cx={x(d.x)} cy={y(d.y)} r={6.8} fill={color(d.p)} fillOpacity={0.7} />
        ))}
      </g>
      <g>
        {scatter.map((d, i) => (
          <circle key={i} cx={x(d.x)} cy={y(d.y)} r={5.3} fill={color(d.p)} fillOpacity={0.5} />
        ))}
      </g>
      <path d={diagonalPath} fill="none" stroke={cmapStops[0]} strokeWidth={11} strokeLinecap="round" />
      {xTicks.map((t) => (
        <text key={t} x={x(t)} y={982} textAnchor="middle" fontFamily={FONT} fontSize={34} fill={INK}>{t}</text>
      ))}
      {yTicks.map((t) => (
        <text key={t} x={98} y={y(t) + 12} textAnchor="end" fontFamily={FONT} fontSize={34} fill={INK}>{t}</text>
      ))}
      <text x={573} y={1027} textAnchor="middle" fontFamily={FONT} fontSize={38} fill={INK}>
        mean L<tspan fontSize={28} dy={10}>10s</tspan><tspan dy={-10}> with OVS in dB(A)</tspan>
      </text>
      <text transform="translate(32,475) rotate(-90)" textAnchor="middle" fontFamily={FONT} fontSize={38} fill={INK}>
        mean L<tspan fontSize={28} dy={10}>10s</tspan><tspan dy={-10}> without OVS in dB(A)</tspan>
      </text>
      <rect x={1071} y={12} width={35} height={925} fill="url(#cb)" stroke={AXIS} strokeWidth={1.2} />
      {cbTicks.map((t, i) => (
        <g key={t}>
          {i > 0 && i < 10 && <line x1={1096} x2={1106} y1={cbY(t)} y2={cbY(t)} stroke={AXIS} strokeWidth={1.2} />}
          <text x={1117} y={cbY(t) + 10.5} fontFamily={FONT} fontSize={30} fill={INK}>{cbLabels[i]}</text>
        </g>
      ))}
      <text transform="translate(1193,475) rotate(-90)" textAnchor="middle" fontFamily={FONT} fontSize={30.5} fill={INK}>own voice proportion</text>
    </svg>
  );
}
